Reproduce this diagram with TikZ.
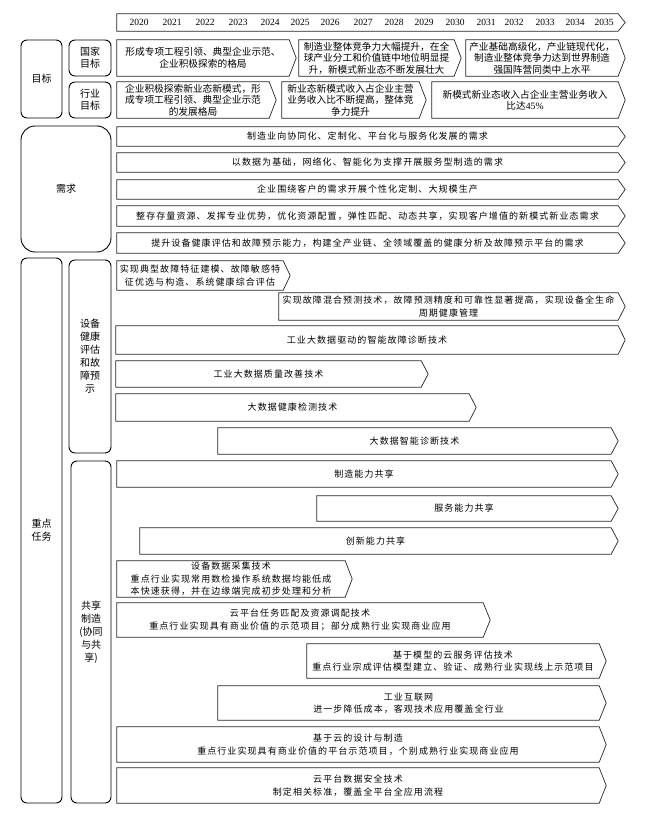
\documentclass[tikz,border=0pt]{standalone}
\usepackage{fontspec}
\setmainfont{Liberation Serif}
\newfontfamily\cjk{Noto Sans CJK SC}
\newfontfamily\cjks[LetterSpace=12]{Noto Sans CJK SC}
\usetikzlibrary{calc}
\newcommand\ctask{\cjks\fontsize{9}{12.5}\selectfont}
\newcommand\ctarget{\cjk\fontsize{9.7}{11.5}\selectfont}
\newcommand\clabel{\cjk\fontsize{10}{13}\selectfont}
\newcommand\chevbox[7][]{%
  \pgfmathsetmacro\cw{#5-7-#3}%
  \pgfmathsetmacro\ch{#6-#4}%
  \pgfmathsetmacro\cx{(#3+#5-7)/2}%
  \pgfmathsetmacro\cy{(#4+#6)/2}%
  \node[cbox,minimum width=\cw pt,minimum height=\ch pt,#1] (#2) at (\cx,\cy) {#7};
  \draw[outl] (#2.north west) -- (#2.north east) -- ($(#2.east)+(7pt,0pt)$) -- (#2.south east) -- (#2.south west) -- cycle;
}
\tikzset{
  cbox/.style={inner sep=0pt, align=center, font=\ctask},
  outl/.style={draw=black!85, line width=0.7pt, line join=miter},
  lbox/.style={draw=black, line width=0.9pt, rounded corners=6pt, inner sep=0pt, align=center, font=\clabel},
  yr/.style={inner sep=0pt, font=\rmfamily\fontsize{9.5}{11}\selectfont},
}
\begin{document}
\begin{tikzpicture}[x=1pt,y=-1pt]
\useasboundingbox (0,0) rectangle (646,824);
\fill[white] (0,0) rectangle (646,824);
% year bar
\chevbox{years}{117}{14}{625}{31}{}
\foreach \yy/\xx in {2020/139,2021/172,2022/205,2023/238,2024/270,2025/300,2026/330,2027/363,2028/394,2029/424,2030/455,2031/486,2032/514,2033/545,2034/575,2035/604}
  \node[yr] (y\yy) at (\xx,22.5) {\yy};
% left labels
\node[lbox, minimum width=41pt, minimum height=78pt] (mb) at (41.5,79) {目标};
\node[lbox, minimum width=42pt, minimum height=36pt, font=\cjk\fontsize{10}{12}\selectfont] (gj) at (90,58) {国家\\目标};
\node[lbox, minimum width=42pt, minimum height=36pt, font=\cjk\fontsize{10}{12}\selectfont] (hy) at (90,100) {行业\\目标};
\node[lbox, rounded corners=14pt, minimum width=90pt, minimum height=126pt] (xq) at (66,189) {需求};
\node[lbox, minimum width=41pt, minimum height=545pt] (zd) at (41.5,530.5) {重点\\任务};
\node[lbox, minimum width=42pt, minimum height=193pt] (sb) at (90,356.5) {设备\\健康\\评估\\和故\\障预\\示};
\node[lbox, minimum width=40pt, minimum height=342pt] (gx) at (91,632) {共享\\制造\\(协同\\与共\\享)};
% targets
\chevbox[font=\ctarget]{g1}{117}{40}{296}{76}{形成专项工程引领、典型企业示范、\\企业积极探索的格局}
\chevbox[font=\ctarget]{g2}{299}{40}{461}{76}{制造业整体竞争力大幅提升，在全\\球产业分工和价值链中地位明显提\\升，新模式新业态不断发展壮大}
\chevbox[font=\ctarget]{g3}{466}{40}{625}{76}{产业基础高级化，产业链现代化，\\制造业整体竞争力达到世界制造\\强国阵营同类中上水平}
\chevbox[font=\ctarget]{h1}{117}{82}{276}{118}{企业积极探索新业态新模式，形\\成专项工程引领、典型企业示范\\的发展格局}
\chevbox[font=\ctarget]{h2}{282}{82}{426}{118}{新业态新模式收入占企业主营\\业务收入比不断提高，整体竞\\争力提升}
\chevbox[font=\ctarget]{h3}{432}{82}{625}{118}{新模式新业态收入占企业主营业务收入\\比达{\rmfamily 45\%}}
% demands
\chevbox{d1}{117}{127}{625}{146}{制造业向协同化、定制化、平台化与服务化发展的需求}
\chevbox{d2}{117}{153}{625}{172}{以数据为基础，网络化、智能化为支撑开展服务型制造的需求}
\chevbox{d3}{117}{180}{625}{199}{企业围绕客户的需求开展个性化定制、大规模生产}
\chevbox{d4}{117}{206}{625}{226}{整存存量资源、发挥专业优势，优化资源配置，弹性匹配、动态共享，实现客户增值的新模式新业态需求}
\chevbox{d5}{117}{233}{625}{253}{提升设备健康评估和故障预示能力，构建全产业链、全领域覆盖的健康分析及故障预示平台的需求}
% equipment health tasks
\chevbox{r1}{117}{261}{290}{290}{实现典型故障特征建模、故障敏感特\\征优选与构造、系统健康综合评估}
\chevbox{r2}{279}{293}{625}{320}{实现故障混合预测技术，故障预测精度和可靠性显著提高，实现设备全生命\\周期健康管理}
\chevbox{r3}{116}{326}{625}{354}{工业大数据驱动的智能故障诊断技术}
\chevbox{r4}{116}{361}{428}{387}{工业大数据质量改善技术}
\chevbox{r5}{116}{394}{476}{421}{大数据健康检测技术}
\chevbox{r6}{218}{428}{618}{454}{大数据智能诊断技术}
% sharing tasks
\chevbox{s1}{117}{461}{618}{487}{制造能力共享}
\chevbox{s2}{317}{496}{618}{521}{服务能力共享}
\chevbox{s3}{140}{528}{618}{554}{创新能力共享}
\chevbox{s4}{117}{561}{352}{597}{设备数据采集技术\\重点行业实现常用数检操作系统数据均能低成\\本快速获得，并在边缘端完成初步处理和分析}
\chevbox{s5}{117}{603}{490}{637}{云平台任务匹配及资源调配技术\\重点行业实现具有商业价值的示范项目；部分成熟行业实现商业应用}
\chevbox{s6}{307}{644}{606}{678}{基于模型的云服务评估技术\\重点行业宗成评估模型建立、验证、成熟行业实现线上示范项目}
\chevbox{s7}{218}{686}{606}{720}{工业互联网\\进一步降低成本，客观技术应用覆盖全行业}
\chevbox{s8}{117}{727}{606}{762}{基于云的设计与制造\\重点行业实现具有商业价值的平台示范项目，个别成熟行业实现商业应用}
\chevbox{s9}{117}{768}{606}{803}{云平台数据安全技术\\制定相关标准，覆盖全平台全应用流程}
\end{tikzpicture}
\end{document}
